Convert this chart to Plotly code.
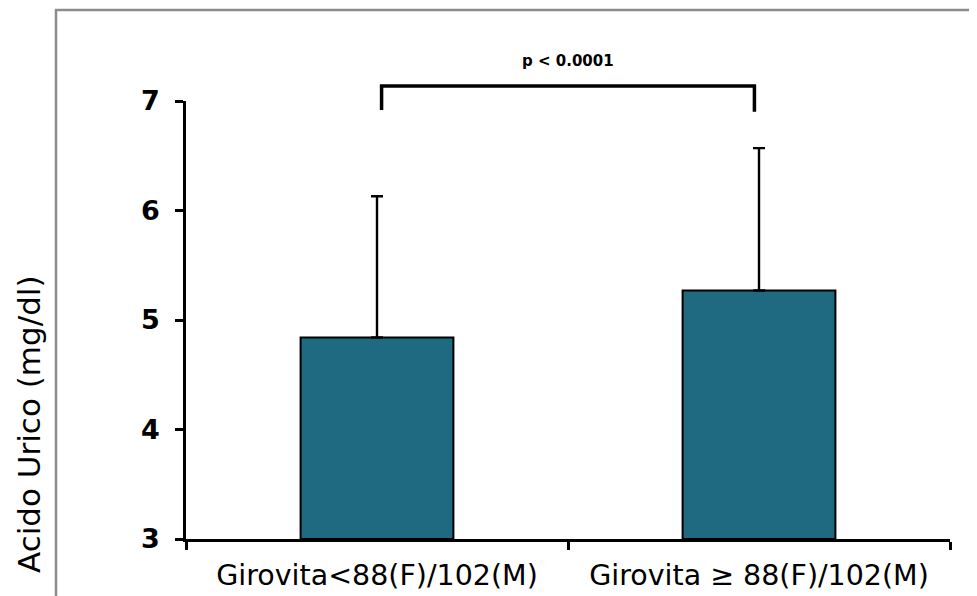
import plotly.graph_objects as go

categories = ["Girovita<88(F)/102(M)", "Girovita ≥ 88(F)/102(M)"]
means = [4.84, 5.27]
sd_upper = [1.29, 1.30]
y_ticks = [3, 4, 5, 6, 7]
y_title = "Acido Urico (mg/dl)"
p_label = "p < 0.0001"

BAR_COLOR = "#1F6A80"
W, H = 977, 596
OFF = 8  # page body margin
ML, MR, MT, MB = 178, 35, 93, 65
PW = W - ML - MR
PH = H - MT - MB


def px(xp):
    return (xp - OFF - ML) / PW


def py(yp):
    return (OFF + MT + PH - yp) / PH


fig = go.Figure()
fig.add_trace(go.Bar(
    x=categories, y=[m - 3 for m in means], base=3,
    width=0.4,
    marker=dict(color=BAR_COLOR, line=dict(color="black", width=2)),
    error_y=dict(type="data", array=sd_upper, arrayminus=[0, 0], symmetric=False,
                 color="black", thickness=2.4, width=6),
    showlegend=False,
))

# significance bracket (x in data, y in paper)
yb_top, yb_bot = py(86), py(110)
fig.add_shape(type="path", xref="x", yref="paper",
              path=f"M 0.012,{yb_bot} L 0.012,{yb_top} L 0.988,{yb_top} L 0.988,{yb_bot - 0.004}",
              line=dict(color="black", width=3.5))
fig.add_annotation(x=0.5, xref="x", y=py(61), yref="paper", text="<b>" + p_label + "</b>",
                   showarrow=False, xanchor="center", yanchor="middle",
                   font=dict(family="DejaVu Sans", size=15, color="black"))

# outer gray frame
fig.add_shape(type="rect", xref="paper", yref="paper",
              x0=px(56), x1=px(1000), y0=py(620), y1=py(10),
              line=dict(color="#8C8C8C", width=2.5), layer="below")

fig.add_annotation(x=px(29), xref="paper", y=py(424), yref="paper",
                   xanchor="center", yanchor="middle",
                   text=y_title, textangle=-90, showarrow=False,
                   font=dict(family="DejaVu Sans", size=31, color="black"))

fig.update_xaxes(
    range=[-0.5, 1.5], showline=True, linecolor="black", linewidth=2.5,
    ticks="outside", tickson="boundaries", ticklen=8, tickwidth=2.5, tickcolor="black",
    tickfont=dict(family="DejaVu Sans", size=28.5, color="black"),
    ticklabelstandoff=9,
    showgrid=False, zeroline=False,
)
fig.update_yaxes(
    range=[3, 7], tickvals=y_ticks, showline=True, linecolor="black", linewidth=2.5,
    ticks="outside", ticklen=8, tickwidth=2.5, tickcolor="black",
    tickfont=dict(family="DejaVu Sans", size=27, color="black", weight="bold"),
    ticklabelstandoff=10,
    showgrid=False, zeroline=False,
)
fig.update_layout(
    width=W, height=H, margin=dict(l=ML, r=MR, t=MT, b=MB),
    plot_bgcolor="white", paper_bgcolor="white",
    bargap=0.6,
)
fig.write_html("out.html")
